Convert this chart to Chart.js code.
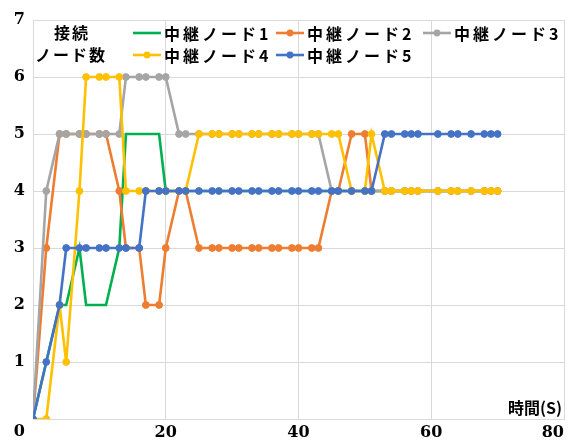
<!DOCTYPE html>
<html>
<head>
<meta charset="utf-8">
<script src="https://cdn.jsdelivr.net/npm/chart.js@4/dist/chart.umd.min.js"></script>
<style>
  html, body { margin: 0; padding: 0; background: #fff; }
  canvas { display: block; }
</style>
</head>
<body>
<canvas id="c" width="572" height="446"></canvas>
<script>
// ---- data ----
const times = [0, 2, 4, 5, 7, 8, 10, 11, 13, 14, 16, 17, 19, 20, 22, 23, 25, 27, 28, 30, 31, 33, 34, 36, 37, 39, 40, 42, 43, 45, 46, 48, 50, 51, 53, 54, 56, 57, 58, 61, 63, 64, 66, 68, 69, 70];
const seriesNames = ['中継ノード1', '中継ノード2', '中継ノード3', '中継ノード4', '中継ノード5'];
const node1 = [0,1,2,2,3,2,2,2,3,5,5,5,5,4,4,4,4,4,4,4,4,4,4,4,4,4,4,4,4,4,4,4,4,4,4,4,4,4,4,4,4,4,4,4,4,4];
const node2 = [0,3,5,5,5,5,5,5,4,3,3,2,2,3,4,4,3,3,3,3,3,3,3,3,3,3,3,3,3,4,4,5,5,4,4,4,4,4,4,4,4,4,4,4,4,4];
const node3 = [0,4,5,5,5,5,5,5,5,6,6,6,6,6,5,5,5,5,5,5,5,5,5,5,5,5,5,5,5,4,4,4,4,4,4,4,4,4,4,4,4,4,4,4,4,4];
const node4 = [0,0,2,1,4,6,6,6,6,4,4,4,4,4,4,4,5,5,5,5,5,5,5,5,5,5,5,5,5,5,5,4,4,5,4,4,4,4,4,4,4,4,4,4,4,4];
const node5 = [0,1,2,3,3,3,3,3,3,3,3,4,4,4,4,4,4,4,4,4,4,4,4,4,4,4,4,4,4,4,4,4,4,4,5,5,5,5,5,5,5,5,5,5,5,5];
const xTicks = [0, 20, 40, 60, 80];
const yTicks = [0, 1, 2, 3, 4, 5, 6, 7];
const yTitleLines = ['接続', 'ノード数'];
const xTitle = '時間(S)';

const seriesValues = [node1, node2, node3, node4, node5];
const colors = ['#00B050', '#ED7D31', '#A5A5A5', '#FFC000', '#4472C4'];
const showMarkers = [false, true, true, true, true];

const datasets = seriesValues.map((vals, i) => ({
  label: seriesNames[i],
  data: times.map((t, k) => ({ x: t, y: vals[k] })),
  borderColor: colors[i],
  backgroundColor: colors[i],
  borderWidth: 2.6,
  pointRadius: showMarkers[i] ? 3.4 : 0,
  pointHoverRadius: 0,
  pointBorderWidth: 1,
  tension: 0,
  order: 10 - i
}));

const numFont = { family: "'DejaVu Serif', 'Liberation Serif', serif", weight: 'bold', size: 16 };
const jpFont = "bold 16px 'Noto Sans CJK JP', sans-serif";

const overlay = {
  id: 'overlay',
  afterDraw(chart) {
    const ctx = chart.ctx;
    ctx.save();
    ctx.font = jpFont;
    ctx.fillStyle = '#000';
    ctx.textBaseline = 'middle';
    if ('letterSpacing' in ctx) ctx.letterSpacing = '3px';
    // legend
    const colX = [133, 276, 423];
    const rowY = [33, 55];
    chart.data.datasets.forEach((ds, i) => {
      const x0 = colX[i % 3], y0 = rowY[Math.floor(i / 3)];
      ctx.strokeStyle = ds.borderColor;
      ctx.lineWidth = 2.6;
      ctx.beginPath(); ctx.moveTo(x0, y0); ctx.lineTo(x0 + 28, y0); ctx.stroke();
      if (ds.pointRadius > 0) {
        ctx.fillStyle = ds.borderColor;
        ctx.beginPath(); ctx.arc(x0 + 14, y0, 3.4, 0, Math.PI * 2); ctx.fill();
      }
      ctx.fillStyle = '#000';
      ctx.textAlign = 'left';
      ctx.fillText(ds.label, x0 + 31, y0 + 1);
    });
    // axis titles
    if ('letterSpacing' in ctx) ctx.letterSpacing = '2px';
    ctx.textAlign = 'center';
    ctx.fillText(yTitleLines[0], 72, 33);
    ctx.fillText(yTitleLines[1], 71, 55);
    if ('letterSpacing' in ctx) ctx.letterSpacing = '0px';
    ctx.textAlign = 'right';
    ctx.fillText(xTitle, 562, 408);
    ctx.restore();
  }
};

new Chart(document.getElementById('c'), {
  type: 'line',
  data: { datasets },
  options: {
    responsive: false,
    animation: false,
    devicePixelRatio: 1,
    layout: { padding: { left: 0, right: 8, top: 20, bottom: 0 } },
    plugins: { legend: { display: false }, tooltip: { enabled: false } },
    scales: {
      x: {
        type: 'linear', min: 0, max: 80,
        afterBuildTicks: s => { s.ticks = xTicks.map(v => ({ value: v })); },
        ticks: { font: numFont, color: '#000', padding: 4, maxRotation: 0, align: 'inner',
                 callback: v => (v === 0 ? '' : String(v)) },
        grid: { color: '#D9D9D9', lineWidth: 1, drawTicks: false },
        border: { color: '#D9D9D9', width: 1 },
        afterFit: s => { s.height = 27; s.paddingLeft = 0; s.paddingRight = 0; }
      },
      y: {
        type: 'linear', min: 0, max: 7,
        afterBuildTicks: s => { s.ticks = yTicks.map(v => ({ value: v })); },
        ticks: { font: Object.assign({}, numFont, { lineHeight: 1.625 }), color: '#000', padding: 8,
                 callback: v => (v === 0 ? ['', '0'] : String(v)) },
        grid: { color: '#D9D9D9', lineWidth: 1, drawTicks: false },
        border: { color: '#D9D9D9', width: 1 },
        afterFit: s => { s.width = 33; s.paddingTop = 0; s.paddingBottom = 0; }
      }
    }
  },
  plugins: [overlay]
});
</script>
</body>
</html>
